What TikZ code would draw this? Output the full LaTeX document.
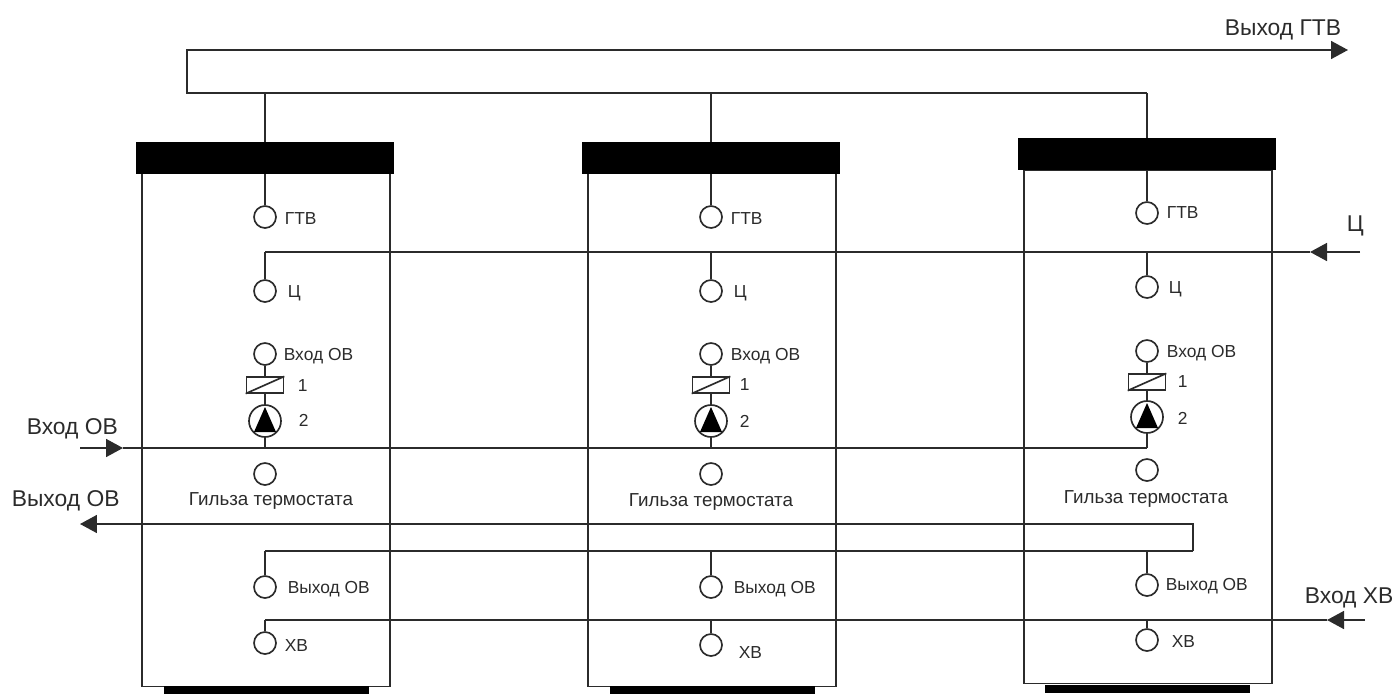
\documentclass[tikz,border=0pt]{standalone}
\usepackage{fontspec}
\setmainfont{Liberation Sans}
\usetikzlibrary{arrows.meta}
\definecolor{inkgray}{HTML}{2B2B2B}
\tikzset{
  tankbody/.style={draw, inkgray, minimum width=4.96cm, minimum height=10.26cm, inner sep=0},
  tankcap/.style={fill=black, minimum width=5.18cm, minimum height=.64cm, inner sep=0, outer sep=0},
  tankbase/.style={fill=black, minimum width=4.1cm, minimum height=.16cm, inner sep=0},
  port/.style={circle, draw, inkgray, fill=white, minimum size=.44cm, inner sep=0},
  valvebox/.style={draw, inkgray, minimum width=.74cm, minimum height=.31cm, inner sep=0},
  pumpring/.style={circle, draw, inkgray, minimum size=.64cm, inner sep=0},
  small/.style={inkgray, font=\fontsize{9.9}{11}\selectfont, inner sep=0},
  sleevetext/.style={inkgray, font=\fontsize{10.7}{12}\selectfont, inner sep=0},
  big/.style={inkgray, font=\fontsize{13}{15}\selectfont, inner sep=0},
  pipe/.style={inkgray},
  tip/.style={inkgray, -{Triangle[length=.34cm, width=.36cm]}, shorten >=0pt}
}
\begin{document}
\begin{tikzpicture}[x=.02cm, y=-.02cm, line width=.95pt]
\useasboundingbox (0,0) rectangle (1395,693);
\node[tankbody] (body1) at (266,430){};
\node[tankcap] (cap1) at (265,158){};
\node[tankbase] (base1) at (266.5,689.5){};
\node[tankbody] (body2) at (712,430){};
\node[tankcap] (cap2) at (711,158){};
\node[tankbase] (base2) at (712.5,689.5){};
\node[tankbody] (body3) at (1148,427){};
\node[tankcap] (cap3) at (1147,154){};
\node[tankbase] (base3) at (1147.5,688.5){};
\node[port] (gtv1) at (265,217){};
\node[port] (cir1) at (265,291){};
\node[port] (inl1) at (265,354){};
\node[valvebox] (valve1) at (265,385){};
\node[pumpring] (pump1) at (265,421){};
\node[port] (sleeve1) at (265,474){};
\node[port] (out1) at (265,587){};
\node[port] (cold1) at (265,643){};
\node[port] (gtv2) at (711,217){};
\node[port] (cir2) at (711,291){};
\node[port] (inl2) at (711,354){};
\node[valvebox] (valve2) at (711,385){};
\node[pumpring] (pump2) at (711,421){};
\node[port] (sleeve2) at (711,474){};
\node[port] (out2) at (711,587){};
\node[port] (cold2) at (711,645){};
\node[port] (gtv3) at (1147,213){};
\node[port] (cir3) at (1147,287){};
\node[port] (inl3) at (1147,351){};
\node[valvebox] (valve3) at (1147,382){};
\node[pumpring] (pump3) at (1147,417){};
\node[port] (sleeve3) at (1147,470){};
\node[port] (out3) at (1147,585){};
\node[port] (cold3) at (1147,640){};
\draw[pipe](valve1.south west) -- (valve1.north east);
\draw[pipe](valve2.south west) -- (valve2.north east);
\draw[pipe](valve3.south west) -- (valve3.north east);
\fill[black] (265,407) -- (254,432) -- (276,432) -- cycle;
\fill[black] (711,407) -- (700,432) -- (722,432) -- cycle;
\fill[black] (1147,403) -- (1136,428) -- (1158,428) -- cycle;
\draw[pipe](cap1) -- (gtv1);
\draw[pipe](cap2) -- (gtv2);
\draw[pipe](cap3) -- (gtv3);
\draw[pipe](inl1) -- (valve1);
\draw[pipe](inl2) -- (valve2);
\draw[pipe](inl3) -- (valve3);
\draw[pipe](valve1) -- (pump1);
\draw[pipe](valve2) -- (pump2);
\draw[pipe](valve3) -- (pump3);
\coordinate (hotturn) at (187,93);
\coordinate (hotup) at (187,50);
\coordinate (hotend) at (1348,50);
\coordinate (hot1) at (265,93);
\coordinate (hot2) at (711,93);
\coordinate (hot3) at (1147,93);
\draw[tip](hot3) -- (hotturn) -- (hotup) -- (hotend);
\draw[pipe](hot1) -- (cap1);
\draw[pipe](hot2) -- (cap2);
\draw[pipe](hot3) -- (cap3);
\coordinate (circstart) at (1360,252);
\coordinate (circtip) at (1310,252);
\coordinate (circ1) at (265,252);
\coordinate (circ2) at (711,252);
\coordinate (circ3) at (1147,252);
\draw[tip](circstart) -- (circtip);
\draw[pipe](circtip) -- (circ1);
\draw[pipe](circ1) -- (cir1);
\draw[pipe](circ2) -- (cir2);
\draw[pipe](circ3) -- (cir3);
\coordinate (heatstart) at (80,448);
\coordinate (heattip) at (123,448);
\coordinate (heat1) at (265,448);
\coordinate (heat2) at (711,448);
\coordinate (heat3) at (1147,448);
\draw[tip](heatstart) -- (heattip);
\draw[pipe](heattip) -- (heat3);
\draw[pipe](pump1) -- (heat1);
\draw[pipe](pump2) -- (heat2);
\draw[pipe](pump3) -- (heat3);
\coordinate (backtip) at (80,524);
\coordinate (backturn) at (1193,524);
\coordinate (backdown) at (1193,551);
\coordinate (back1) at (265,551);
\coordinate (back2) at (711,551);
\coordinate (back3) at (1147,551);
\draw[tip](backdown) -- (backturn) -- (backtip);
\draw[pipe](backdown) -- (back1);
\draw[pipe](back1) -- (out1);
\draw[pipe](back2) -- (out2);
\draw[pipe](back3) -- (out3);
\coordinate (coldstart) at (1365,620);
\coordinate (coldtip) at (1327,620);
\coordinate (coldj1) at (265,620);
\coordinate (coldj2) at (711,620);
\coordinate (coldj3) at (1147,620);
\draw[tip](coldstart) -- (coldtip);
\draw[pipe](coldtip) -- (coldj1);
\draw[pipe](coldj1) -- (cold1);
\draw[pipe](coldj2) -- (cold2);
\draw[pipe](coldj3) -- (cold3);
\node[small, anchor=west] (tgtv1) at (284,219){ГТВ};
\node[small, anchor=west] (tcir1) at (287,293){Ц};
\node[small, anchor=west] (tinl1) at (283,356){Вход ОВ};
\node[small, anchor=west] (tvalve1) at (297,386){1};
\node[small, anchor=west] (tpump1) at (298,420){2};
\node[sleevetext] (tsleeve1) at (271,501){Гильза термостата};
\node[small, anchor=west] (tout1) at (287,589){Выход ОВ};
\node[small, anchor=west] (tcold1) at (284,646){ХВ};
\node[small, anchor=west] (tgtv2) at (730,219){ГТВ};
\node[small, anchor=west] (tcir2) at (733,293){Ц};
\node[small, anchor=west] (tinl2) at (730,356){Вход ОВ};
\node[small, anchor=west] (tvalve2) at (739,385){1};
\node[small, anchor=west] (tpump2) at (739,421){2};
\node[sleevetext] (tsleeve2) at (711,502){Гильза термостата};
\node[small, anchor=west] (tout2) at (733,589){Выход ОВ};
\node[small, anchor=west] (tcold2) at (738,653){ХВ};
\node[small, anchor=west] (tgtv3) at (1166,213){ГТВ};
\node[small, anchor=west] (tcir3) at (1168,289){Ц};
\node[small, anchor=west] (tinl3) at (1166,353){Вход ОВ};
\node[small, anchor=west] (tvalve3) at (1177,382){1};
\node[small, anchor=west] (tpump3) at (1177,418){2};
\node[sleevetext] (tsleeve3) at (1146,499){Гильза термостата};
\node[small, anchor=west] (tout3) at (1165,586){Выход ОВ};
\node[small, anchor=west] (tcold3) at (1171,642){ХВ};
\node[big, anchor=west] (thot) at (1224,30){Выход ГТВ};
\node[big, anchor=west] (tcirc) at (1346,226){Ц};
\node[big, anchor=west] (theat) at (26,429){Вход ОВ};
\node[big, anchor=west] (tback) at (11,501){Выход ОВ};
\node[big, anchor=west] (tcold) at (1304,598){Вход ХВ};
\end{tikzpicture}
\end{document}
